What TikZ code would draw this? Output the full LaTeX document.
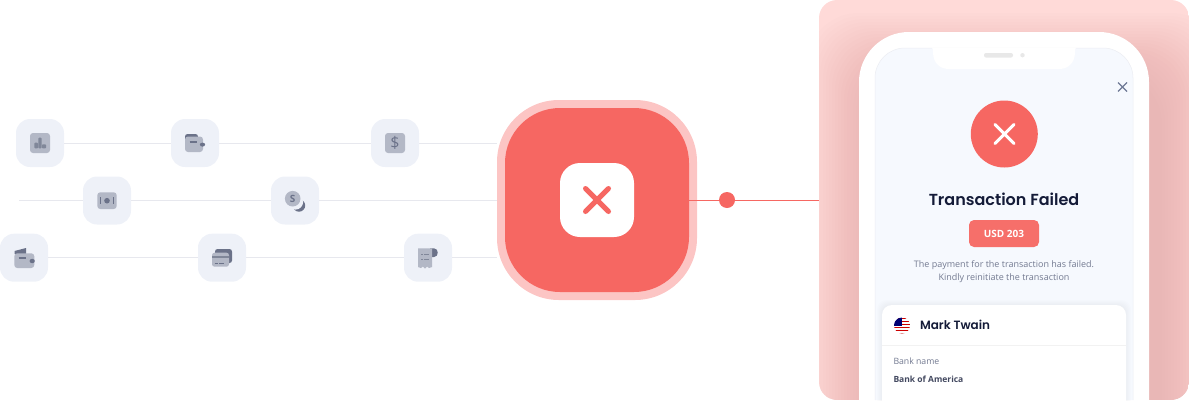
\documentclass[tikz,border=0pt]{standalone}
\usepackage{fontspec}
\setmainfont{Open Sans}
\newfontfamily\titlefont{Poppins SemiBold}
\newfontfamily\bodyfont{Open Sans}
\definecolor{tilec}{HTML}{EEF1F8}
\definecolor{linkc}{HTML}{E7E8EE}
\definecolor{redc}{HTML}{F66762}
\definecolor{ringc}{HTML}{FCC5C4}
\definecolor{panelc}{HTML}{FFDAD8}
\definecolor{shadowc}{HTML}{A86A6A}
\definecolor{screenc}{HTML}{F6F9FE}
\definecolor{lightc}{HTML}{B3B8C6}
\definecolor{darkc}{HTML}{6B7289}
\definecolor{softc}{HTML}{808799}
\definecolor{inkc}{HTML}{141B38}
\definecolor{mutedc}{HTML}{737A91}
\definecolor{closec}{HTML}{6F7A96}
\tikzset{
  x=1pt,y=-1pt,
  tile/.style={fill=tilec,rounded corners=14pt,minimum size=48pt,inner sep=0pt,draw=none},
  linkline/.style={draw=linkc,line width=1pt},
  redline/.style={draw=redc,line width=0.9pt},
  iconlight/.style={fill=lightc,draw=none},
  icondark/.style={fill=darkc,draw=none},
  iconstroke/.style={draw=darkc,line width=1.1pt},
  txt/.style={inner sep=0pt,outer sep=0pt},
}
\begin{document}
\begin{tikzpicture}
\useasboundingbox (0,0) rectangle (1189,400);
% panel
\begin{scope}
\clip[rounded corners=18pt] (819,0) rectangle (1189,400);
\fill[panelc] (819,0) rectangle (1189,400);
\foreach \e in {2,5,...,62}{
  \fill[shadowc,fill opacity=0.012,rounded corners=50pt]
    ({870-\e},{75-\e}) rectangle ({1160+\e},{500+\e});
}
\end{scope}
\coordinate (panelw) at (819,200);
% hub
\node[fill=ringc,rounded corners=62pt,minimum size=200pt,inner sep=0pt] (hub) at (597,200) {};
\node[fill=redc,rounded corners=55pt,minimum size=184pt,inner sep=0pt] (core) at (597,200) {};
\node[fill=white,rounded corners=20pt,minimum size=74pt,inner sep=0pt] (xbox) at (597,200) {};
\draw[redc,line width=5pt,line cap=round] (585.5,188.5) -- (608.5,211.5) (608.5,188.5) -- (585.5,211.5);
\node[circle,fill=redc,minimum size=16pt,inner sep=0pt] (dot) at (727,200) {};
\draw[redline] (core.east) -- (dot.west);
\draw[redline] (dot.east) -- (panelw);
% tiles
\node[tile] (t1) at (40,143) {};
\node[tile] (t2) at (195,143) {};
\node[tile] (t3) at (395,143) {};
\node[tile] (t4) at (107,200.5) {};
\node[tile] (t5) at (295,200.5) {};
\node[tile] (t6) at (24,257.7) {};
\node[tile] (t7) at (222,257.7) {};
\node[tile] (t8) at (428,257.7) {};
\coordinate (s2) at (19,200.5);
\draw[linkline] (t1) -- (t2);
\draw[linkline] (t2) -- (t3);
\draw[linkline] (t3.east) -- (t3.east -| hub.west);
\draw[linkline] (s2) -- (t4.west);
\draw[linkline] (t4) -- (t5);
\draw[linkline] (t5.east) -- (t5.east -| hub.west);
\draw[linkline] (t6) -- (t7);
\draw[linkline] (t7) -- (t8);
\draw[linkline] (t8.east) -- (t8.east -| hub.west);
% icon 1
\fill[iconlight,rounded corners=3pt] (30,133) rectangle (50,153);
\fill[fill=softc,rounded corners=0.8pt] (34.3,142.7) rectangle (38,148.3);
\fill[fill=softc,rounded corners=0.8pt] (38.4,137.7) rectangle (41.6,148.3);
\fill[fill=softc,rounded corners=0.8pt] (42,144.3) rectangle (46,148.3);
% icon 2 wallet
\fill[icondark,rounded corners=2.5pt] (185,134) rectangle (198,142);
\fill[iconlight,rounded corners=3pt] (185,136.5) rectangle (203,152);
\draw[iconstroke] (189.5,142) -- (196.5,142);
\fill[icondark] (202.5,144.6) ellipse (2.6pt and 2pt);
% icon 3 dollar
\fill[iconlight,rounded corners=3pt] (385,133) rectangle (405,153);
\node[txt,text=darkc,font=\fontsize{16}{16}\selectfont] (dollar) at (395,143) {\$};
% icon 4 banknote
\fill[iconlight,rounded corners=3pt] (97.3,192.3) rectangle (116.7,209);
\fill[darkc] (107,200.7) circle (2.8pt);
\draw[iconstroke,line width=1pt] (100.7,197.3) -- (100.7,203.7) (113.3,197.3) -- (113.3,203.7);
% icon 5 coins
\fill[darkc] (299,205.5) circle (6.2pt);
\fill[tilec] (295.5,202) circle (7.6pt);
\fill[fill=lightc] (292.7,198.7) circle (7.8pt);
\node[txt,text=darkc,font=\fontsize{10}{10}\selectfont\bfseries] (coins) at (292.7,198.7) {S};
% icon 6 wallet 2
\fill[icondark] (14.5,254) -- (14.5,251) -- (26,248) -- (26,254) -- cycle;
\fill[iconlight,rounded corners=3pt] (14.3,253.3) rectangle (34.3,268);
\draw[iconstroke] (18.5,258) -- (26,258);
\fill[icondark] (32.2,261) ellipse (2.6pt and 2.2pt);
% icon 7 cards
\fill[icondark,rounded corners=2.5pt] (215,249) rectangle (232,263);
\fill[iconlight,rounded corners=2.5pt] (212,252.7) rectangle (229,266.7);
\fill[softc] (212,256) rectangle (229,258);
\draw[iconstroke,line width=1pt] (214.7,263.5) -- (218,263.5) (219,263.5) -- (223.5,263.5);
% icon 8 receipt
\fill[icondark] (430,248.3) -- (434,248.3) .. controls (439,248.3) and (439,257) .. (434,257) -- (430,257) -- cycle;
\fill[iconlight] (418,248.3) -- (432,248.3) -- (432,267)
  -- (429,268) -- (427,266.5) -- (425,268.5) -- (423,266.5) -- (421,268) -- (418,267) -- cycle;
\draw[iconstroke,line width=1pt,draw=softc] (421,254.7) -- (423.4,254.7) (424.2,254.7) -- (429,254.7) (421,259) -- (423.4,259) (424.2,259) -- (429,259);
% phone
\fill[white] (859,400) -- (859,82) arc[start angle=180,end angle=90,radius=50pt] -- (1099,32) arc[start angle=90,end angle=0,radius=50pt] -- (1149,400) -- cycle;
\draw[fill=screenc,draw=linkc!70!screenc,line width=0.5pt] (875,400) -- (875,78) arc[start angle=180,end angle=90,radius=30pt] -- (1103,48) arc[start angle=90,end angle=0,radius=30pt] -- (1133,400);
% notch
\fill[white] (931,47.5) .. controls (933,48) and (933,49) .. (933,52) .. controls (933,63) and (940,69) .. (949,69) -- (1059,69) .. controls (1068,69) and (1075,63) .. (1075,52) .. controls (1075,49) and (1075,48) .. (1077,47.5) -- cycle;
\fill[fill=black!9,rounded corners=2pt] (984,53) rectangle (1013,57.5);
\fill[black!9] (1022.5,55.2) circle (2.2pt);
% close
\draw[draw=closec,line width=1.3pt] (1118,82.5) -- (1127,91.5) (1127,82.5) -- (1118,91.5);
% fail circle
\node[circle,fill=redc,minimum size=67pt,inner sep=0pt] (fail) at (1004.3,134) {};
\draw[white,line width=3pt,line cap=round] (995,124.5) -- (1014,143.5) (1014,124.5) -- (995,143.5);
% title
\node[txt,text=inkc,font=\titlefont\fontsize{16}{16}\selectfont] (title) at (1004,199) {Transaction Failed};
\node[fill=redc!95!white,rounded corners=5pt,minimum width=70pt,minimum height=27pt,inner sep=0pt,text=white,font=\bodyfont\bfseries\fontsize{10}{10}\selectfont] (usd) at (1004,233.5) {USD 203};
\node[txt,text=mutedc,font=\bodyfont\fontsize{9}{9}\selectfont] (msg1) at (1004,264.7) {The payment for the transaction has failed.};
\node[txt,text=mutedc,font=\bodyfont\fontsize{9}{9}\selectfont] (msg2) at (1004,277.9) {Kindly reinitiate the transaction};
% card
\begin{scope}
\clip (876,295) rectangle (1132.5,400);
\foreach \e in {1,2,...,5}{
  \fill[darkc,fill opacity=0.012,rounded corners=10pt] ({882-\e},{305-\e}) rectangle ({1126+\e},450);
}
\fill[white,rounded corners=10pt] (882,305) rectangle (1126,450);
\end{scope}
\draw[draw=black!5,line width=0.8pt] (882,345.5) -- (1126,345.5);
% flag
\begin{scope}
\clip (902,325.5) circle (8pt);
\fill[white] (894,317) rectangle (910,334);
\foreach \yy in {317.5,320.5,323.5,326.5,329.5,332.5}{
  \fill[red!80!black] (894,\yy) rectangle ({910},{\yy+1.3});
}
\fill[blue!45!black] (894,317) rectangle (902,325.5);
\end{scope}
\node[txt,anchor=west,text=inkc,font=\titlefont\fontsize{12}{13}\selectfont] (name) at (920,324.7) {Mark Twain};
\node[txt,anchor=west,text=mutedc,font=\bodyfont\fontsize{8.7}{9}\selectfont] (bankl) at (893.5,361.5) {Bank name};
\node[txt,anchor=west,text=inkc!80!white,font=\bodyfont\bfseries\fontsize{8.5}{9}\selectfont] (bankv) at (893.5,379) {Bank of America};
\end{tikzpicture}
\end{document}
